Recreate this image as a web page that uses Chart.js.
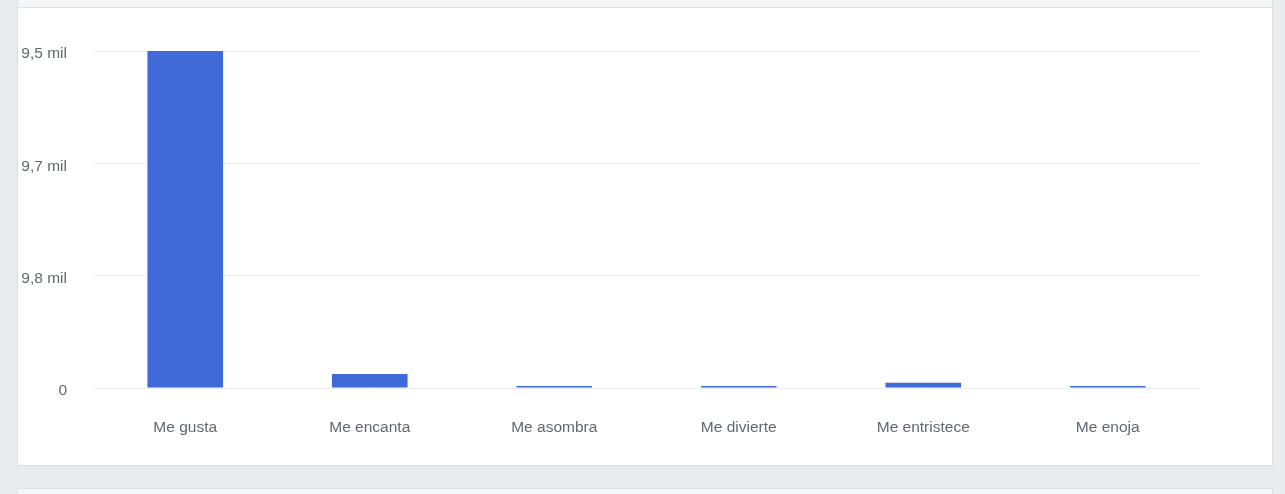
<!DOCTYPE html>
<html>
<head>
<meta charset="utf-8">
<script src="https://cdn.jsdelivr.net/npm/chart.js@4/dist/chart.umd.min.js"></script>
<style>
  html, body { margin: 0; padding: 0; background: #e9ebee; width: 1285px; height: 494px; overflow: hidden; }
  .topcard { position: absolute; left: 17px; top: -10px; width: 1254px; height: 17px; background: #f5f6f7; border: 1px solid #dddfe2; }
  .card { position: absolute; left: 17px; top: 7px; width: 1254px; height: 457px; background: #fff; border: 1px solid #dddfe2; }
  .nextcard { position: absolute; left: 17px; top: 488px; width: 1254px; height: 40px; background: #f5f6f7; border: 1px solid #dddfe2; }
  #wrap { position: absolute; left: 18px; top: 8px; width: 1254px; height: 456px; }
</style>
</head>
<body>
<div class="topcard"></div>
<div class="card"></div>
<div class="nextcard"></div>
<div id="wrap"><canvas id="barChart"></canvas></div>
<script>
const labels = ['Me gusta', 'Me encanta', 'Me asombra', 'Me divierte', 'Me entristece', 'Me enoja'];
const reacciones = [29500, 1230, 130, 130, 450, 100];
const tickValues = [0, 9833, 19667, 29500];
const tickLabels = ['0', '9,8 mil', '9,7 mil', '9,5 mil'];

const data = {
  labels: labels,
  datasets: [
    {
      label: 'Reacciones',
      backgroundColor: 'rgb(64, 106, 216)',
      borderColor: 'rgb(64, 106, 216)',
      data: reacciones,
      barPercentage: 0.41,
      categoryPercentage: 1.0,
      minBarLength: 2,
    }
  ]
};

const config = {
  type: 'bar',
  data: data,
  options: {
    responsive: true,
    maintainAspectRatio: false,
    animation: false,
    layout: { padding: { top: 43, right: 72, bottom: 16, left: 0 } },
    plugins: {
      legend: { display: false },
      tooltip: { enabled: false }
    },
    scales: {
      x: {
        grid: { display: false },
        border: { display: false },
        ticks: {
          color: '#616770',
          font: { family: 'Liberation Sans, Arial, sans-serif', size: 15.5 },
          padding: 22,
          maxRotation: 0
        },
        afterFit: (s) => { s.height = 60; }
      },
      y: {
        min: 0,
        max: 29500,
        border: { display: false },
        grid: { color: '#ebedf0', drawTicks: false, lineWidth: 1 },
        afterBuildTicks: (s) => { s.ticks = tickValues.map(v => ({ value: v })); },
        afterFit: (s) => { s.width = 75; },
        ticks: {
          color: '#616770',
          font: { family: 'Liberation Sans, Arial, sans-serif', size: 15.5 },
          padding: 26,
          labelOffset: 3,
          callback: (v, i) => tickLabels[i]
        }
      }
    }
  }
};

const myChart = new Chart(document.getElementById('barChart'), config);
</script>
</body>
</html>
